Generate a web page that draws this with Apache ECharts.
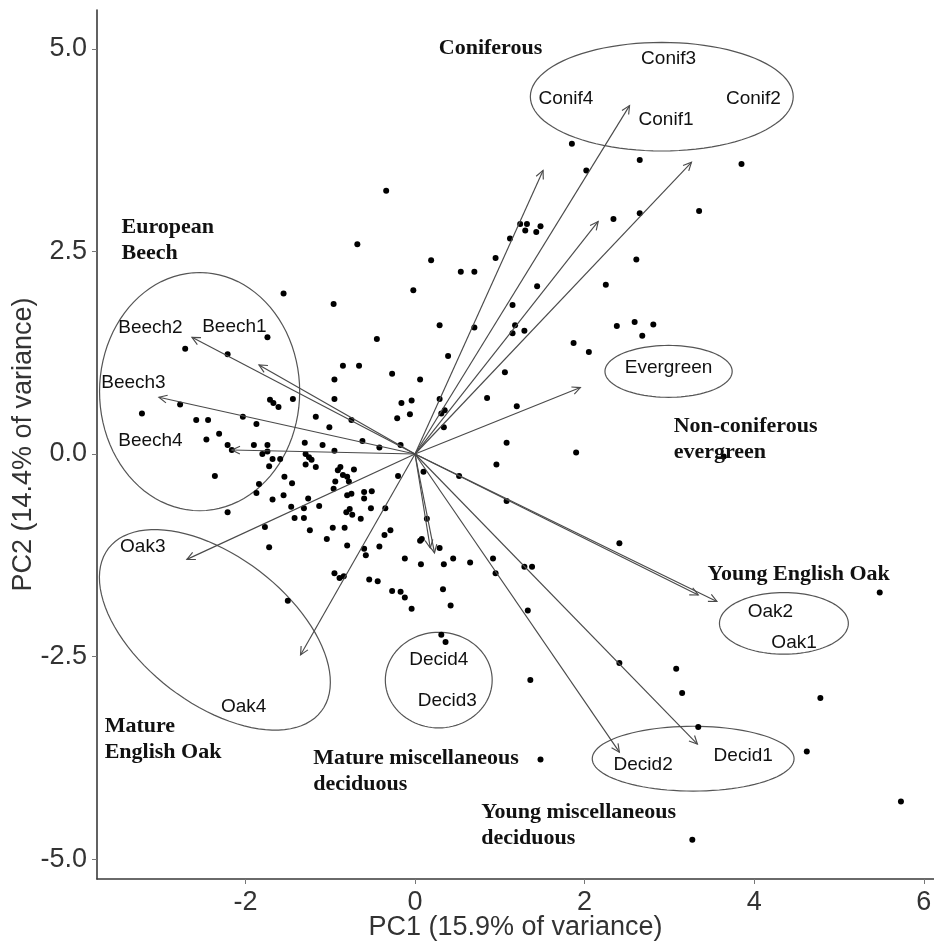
<!DOCTYPE html>
<html>
<head>
<meta charset="utf-8">
<script src="https://cdn.jsdelivr.net/npm/echarts@6/dist/echarts.min.js"></script>
<style>
  html, body { margin: 0; padding: 0; background: #fff; }
  #chart { width: 934px; height: 948px; }
</style>
</head>
<body>
<div id="chart"></div>
<script>
// Site scores on the first two principal components
const siteX = [-1.55,1.85,2.02,-0.34,-0.68,1.24,1.32,1.30,1.43,1.48,1.12,0.19,0.54,0.70,0.95,-0.02,-0.96,1.44,1.15,2.25,2.34,2.65,3.85,2.65,3.35,2.61,
  -1.74,-2.71,-2.21,-1.44,-1.71,-1.67,-1.61,-2.77,-3.22,-2.03,-2.58,-2.44,-1.87,-1.17,-2.31,-2.46,-2.21,-2.16,-1.90,-1.74,-1.80,-1.74,-1.30,-1.29,-1.25,-1.22,-1.68,-1.59,-1.72,-1.29,-1.17,-2.36,-1.54,-1.45,-1.84,-1.87,-1.55,-1.68,-1.46,-1.31,-2.21,-1.42,-1.31,-1.77,-1.24,-1.72,-1.50,
  0.29,0.70,1.18,1.15,1.29,2.38,-0.45,1.87,2.05,0.39,-0.85,-0.66,-0.27,0.06,-0.95,1.06,0.85,1.20,-0.95,-0.16,-0.04,-0.06,-0.21,0.29,0.35,0.31,0.34,-1.01,-0.75,-0.62,-0.42,-0.17,-1.09,-0.95,-0.88,-0.91,-0.85,-0.80,-0.78,-0.94,-0.72,-0.20,0.10,0.96,1.08,1.90,0.52,-0.96,-0.80,-0.75,-0.60,-0.51,-0.60,-1.26,-1.13,-0.77,-0.81,-0.74,-0.52,-0.35,-0.64,-0.97,-0.83,1.08,-1.04,-0.80,-0.42,-0.36,-0.29,-0.60,-0.58,0.06,0.08,0.14,0.29,-0.12,0.07,0.34,0.45,0.65,0.92,0.95,1.29,1.38,2.41,-0.95,-0.89,-0.84,-0.54,-0.44,-0.27,-0.17,-0.12,0.33,-0.04,0.42,1.33,2.59,2.81,2.68,5.48,3.64,0.31,0.36,1.36,1.48,2.41,3.08,3.15,3.34,4.78,4.62,5.73,3.27];
const siteY = [1.98,3.83,3.50,3.25,2.59,2.84,2.84,2.76,2.74,2.81,2.66,2.39,2.25,2.25,2.42,2.02,1.85,2.07,1.84,2.09,2.90,3.63,3.58,2.97,3.00,2.40,
  1.44,1.30,1.23,0.68,0.67,0.63,0.58,0.61,0.50,0.46,0.42,0.42,0.37,0.46,0.25,0.18,0.11,0.05,0.11,0.11,0.00,0.03,0.14,0.00,-0.04,-0.07,-0.06,-0.06,-0.15,-0.13,-0.16,-0.27,-0.28,-0.36,-0.37,-0.48,-0.51,-0.56,-0.65,-0.67,-0.72,-0.79,-0.79,-0.90,-0.94,-1.15,-1.81,
  1.59,1.56,1.59,1.49,1.52,1.58,1.42,1.37,1.26,1.21,1.09,1.09,0.99,0.92,0.92,1.01,0.69,0.59,0.68,0.63,0.66,0.49,0.44,0.68,0.54,0.50,0.33,0.33,0.42,0.16,0.08,0.11,0.11,0.04,-0.16,-0.20,-0.26,-0.28,-0.34,-0.34,-0.19,-0.27,-0.22,-0.13,0.14,0.02,-0.27,-0.43,-0.51,-0.49,-0.47,-0.46,-0.55,-0.55,-0.64,-0.68,-0.72,-0.75,-0.67,-0.67,-0.80,-0.91,-0.91,-0.58,-1.05,-1.13,-1.14,-1.00,-0.94,-1.17,-1.25,-1.07,-1.05,-0.80,-1.16,-1.29,-1.36,-1.36,-1.29,-1.34,-1.29,-1.47,-1.39,-1.39,-1.10,-1.47,-1.53,-1.51,-1.55,-1.57,-1.69,-1.70,-1.77,-1.67,-1.91,-1.87,-1.93,1.63,1.60,1.46,-1.71,-0.03,-2.23,-2.32,-2.79,-3.77,-2.58,-2.65,-2.95,-3.37,-3.01,-3.67,-4.29,-4.76];

// Variable loadings (arrow tips) and where each variable name sits
const varNames = ['Conif1','Conif2','Conif3','Conif4','Evergreen','Oak1','Oak2','Oak3','Oak4','Decid1','Decid2','Decid3','Decid4','Beech1','Beech2','Beech3','Beech4'];
const loadX  = [2.53, 3.26, 2.16, 1.51, 1.95, 3.34, 3.56, -2.69, -1.35, 3.33, 2.41, 0.18, 0.23, -1.84, -2.63, -3.02, -2.16];
const loadY  = [4.30, 3.60, 2.87, 3.50, 0.82, -1.74, -1.82, -1.30, -2.48, -3.58, -3.68, -1.16, -1.22, 1.10, 1.44, 0.70, 0.05];
const labelX = [2.96, 3.99, 2.99, 1.78, 2.99, 4.47, 4.19, -3.21, -2.02, 3.87, 2.69, 0.38, 0.28, -2.13, -3.12, -3.32, -3.12];
const labelY = [4.13, 4.38, 4.88, 4.38, 1.06, -2.33, -1.95, -1.15, -3.12, -3.73, -3.83, -3.04, -2.54, 1.57, 1.56, 0.88, 0.16];

// Woodland groups: caption anchor (left edge, vertical middle)
const groupNames = ['Coniferous', 'European\nBeech', 'Non-coniferous\nevergreen', 'Young English Oak',
                    'Mature\nEnglish Oak', 'Mature miscellaneous\ndeciduous', 'Young miscellaneous\ndeciduous'];
const groupX = [0.28, -3.46, 3.05, 3.45, -3.66, -1.20, 0.78];
const groupY = [5.01, 2.64, 0.18, -1.48, -3.52, -3.92, -4.58];

// Group ellipses: centre, semi-axes (x units, y units), tilt in degrees
const ellCX = [2.91, -2.54, -2.36, 2.99, 4.35, 0.28, 3.28];
const ellCY = [4.41, 0.77, -2.17, 1.02, -2.09, -2.79, -3.76];
const ellRX = [1.55, 1.18, 1.58, 0.75, 0.76, 0.63, 1.19];
const ellRY = [0.67, 1.47, 0.91, 0.32, 0.38, 0.59, 0.40];
const ellTilt = [0, 0, 37.4, 0, 0, 0, 0];

const xTicks = [-2, 0, 2, 4, 6];
const yTicks = [-5, -2.5, 0, 2.5, 5];

const SANS = '"Liberation Sans", Arial, sans-serif';
const SERIF = '"Liberation Serif", "Times New Roman", serif';
const LINE = '#4a4a4a';

const chart = echarts.init(document.getElementById('chart'), null, { renderer: 'canvas' });

const axisCommon = {
  type: 'value',
  nameLocation: 'middle',
  nameMoveOverlap: false,
  nameTextStyle: { fontFamily: SANS, fontSize: 27, color: '#333' },
  splitLine: { show: false },
  axisLine: { show: true, onZero: false, lineStyle: { color: '#3a3a3a', width: 1.6 } },
  axisTick: { show: true, length: 5, lineStyle: { color: '#777', width: 1 } },
  axisLabel: { fontFamily: SANS, fontSize: 27, color: '#333', margin: 10 }
};

chart.setOption({
  animation: false,
  backgroundColor: '#fff',
  grid: { left: 97, right: 0, top: 10, bottom: 69, containLabel: false, outerBoundsMode: 'none' },
  xAxis: Object.assign({}, axisCommon, {
    min: -3.75, max: 6.12,
    name: 'PC1 (15.9% of variance)', nameGap: 35,
    axisTick: Object.assign({}, axisCommon.axisTick, { customValues: xTicks }),
    axisLabel: Object.assign({}, axisCommon.axisLabel, { customValues: xTicks, formatter: v => String(v) })
  }),
  yAxis: Object.assign({}, axisCommon, {
    min: -5.245, max: 5.48,
    name: 'PC2 (14.4% of variance)', nameGap: 60,
    axisTick: Object.assign({}, axisCommon.axisTick, { customValues: yTicks }),
    axisLabel: Object.assign({}, axisCommon.axisLabel, { customValues: yTicks, formatter: v => Number(v).toFixed(1) })
  }),
  series: [
    {
      // group ellipses
      type: 'custom',
      silent: true,
      clip: false,
      encode: { x: 0, y: 1 },
      data: ellCX.map((c, i) => [c, ellCY[i], ellRX[i], ellRY[i], ellTilt[i]]),
      renderItem: (params, api) => {
        const c = api.coord([api.value(0), api.value(1)]);
        const a = api.size([api.value(2), 0])[0];
        const b = api.size([0, api.value(3)])[1];
        const th = api.value(4) * Math.PI / 180;
        const pts = [];
        for (let k = 0; k < 96; k++) {
          const t = k / 96 * Math.PI * 2;
          const ux = a * Math.cos(t), uy = b * Math.sin(t);
          pts.push([c[0] + ux * Math.cos(th) - uy * Math.sin(th),
                    c[1] + ux * Math.sin(th) + uy * Math.cos(th)]);
        }
        return { type: 'polygon', shape: { points: pts },
                 style: { fill: null, stroke: '#555', lineWidth: 1.2 } };
      }
    },
    {
      // site scores
      type: 'scatter',
      symbol: 'circle',
      symbolSize: 6,
      itemStyle: { color: '#000', opacity: 1 },
      data: siteX.map((x, i) => [x, siteY[i]]),
      z: 3
    },
    {
      // loading arrows from the origin
      type: 'custom',
      silent: true,
      clip: false,
      encode: { x: 0, y: 1 },
      data: loadX.map((x, i) => [x, loadY[i]]),
      renderItem: (params, api) => {
        const o = api.coord([0, 0]);
        const p = api.coord([api.value(0), api.value(1)]);
        const ang = Math.atan2(p[1] - o[1], p[0] - o[0]);
        const L = 9, w = 0.45;
        const h1 = [p[0] - L * Math.cos(ang - w), p[1] - L * Math.sin(ang - w)];
        const h2 = [p[0] - L * Math.cos(ang + w), p[1] - L * Math.sin(ang + w)];
        return {
          type: 'group',
          children: [
            { type: 'line', shape: { x1: o[0], y1: o[1], x2: p[0], y2: p[1] },
              style: { stroke: LINE, lineWidth: 1.15 } },
            { type: 'polyline', shape: { points: [h1, p, h2] },
              style: { stroke: LINE, lineWidth: 1.15, fill: null } }
          ]
        };
      },
      z: 4
    },
    {
      // variable names
      type: 'custom',
      silent: true,
      clip: false,
      encode: { x: 0, y: 1 },
      data: labelX.map((x, i) => [x, labelY[i], i]),
      renderItem: (params, api) => {
        const p = api.coord([api.value(0), api.value(1)]);
        return { type: 'text', x: p[0], y: p[1],
                 style: { text: varNames[api.value(2)], fontFamily: SANS, fontSize: 19,
                          fill: '#111', align: 'center', verticalAlign: 'middle' } };
      },
      z: 5
    },
    {
      // woodland group captions
      type: 'custom',
      silent: true,
      clip: false,
      encode: { x: 0, y: 1 },
      data: groupX.map((x, i) => [x, groupY[i], i]),
      renderItem: (params, api) => {
        const p = api.coord([api.value(0), api.value(1)]);
        return { type: 'text', x: p[0], y: p[1],
                 style: { text: groupNames[api.value(2)], fontFamily: SERIF, fontWeight: 'bold',
                          fontSize: 22, lineHeight: 26, fill: '#111',
                          align: 'left', verticalAlign: 'middle' } };
      },
      z: 5
    }
  ]
});
</script>
</body>
</html>
